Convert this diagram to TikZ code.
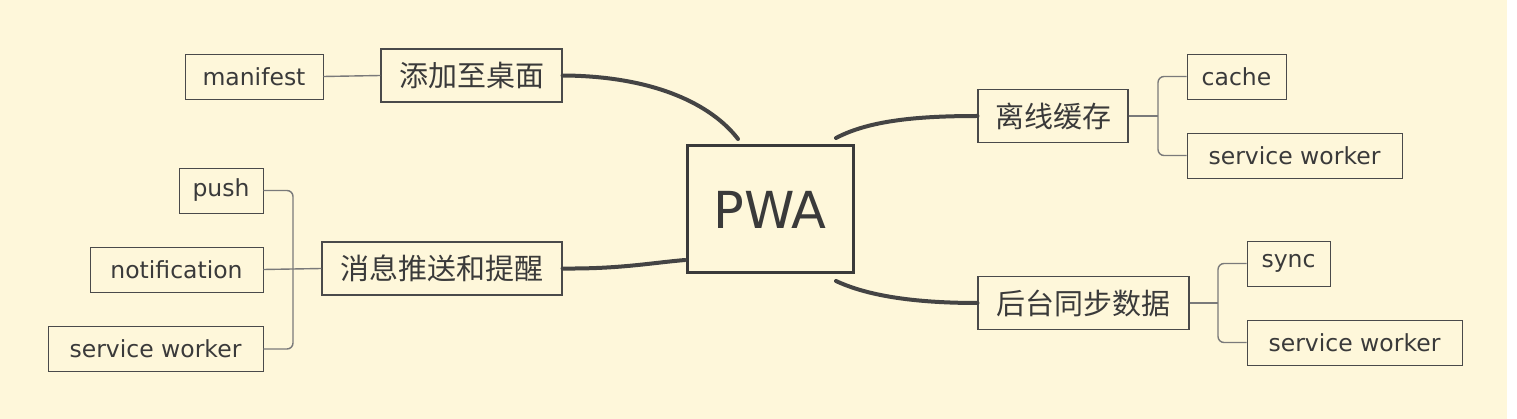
\documentclass[tikz,border=0pt]{standalone}
\usepackage{fontspec}
\setmainfont{DejaVu Sans}
\newfontfamily\cjk{Noto Sans CJK SC}
\definecolor{bg}{HTML}{FEF7DA}
\definecolor{txt}{HTML}{3A3A3A}
\definecolor{boxline}{HTML}{4A4A4A}
\definecolor{thick}{HTML}{444444}
\definecolor{thin}{HTML}{7A7A7A}
\begin{document}
\begin{tikzpicture}[x=1pt,y=-1pt,
  leaf/.style={draw=boxline, line width=0.9pt, text=txt, inner sep=0pt,
    font=\fontsize{23.5}{26}\selectfont, minimum height=45pt},
  topic/.style={draw=boxline, line width=1.1pt, text=txt, inner sep=0pt,
    font=\cjk\fontsize{29}{33}\selectfont, minimum height=53pt},
  central/.style={draw=txt, line width=3pt, text=txt, inner sep=0pt,
    font=\fontsize{51}{56}\selectfont, minimum width=166pt, minimum height=127pt},
  branch/.style={draw=thick, line width=4pt, line cap=round},
  conn/.style={draw=thin, line width=1.4pt, rounded corners=6pt}]
\useasboundingbox (0,0) rectangle (1517,419);
\fill[white] (0,0) rectangle (1517,419);
\fill[bg] (0,0) rectangle (1507,419);

% central
\node[central] (pwa) at (770,209.5) {PWA};
\coordinate (ptl) at (738,139);
\coordinate (ptr) at (836,138);
\coordinate (pl) at (685,260);
\coordinate (pbr) at (836,281);

% topics
\node[topic, minimum width=181pt] (tj) at (471.5,75.5) {添加至桌面};
\node[topic, minimum width=240pt] (xx) at (442,268.5) {消息推送和提醒};
\node[topic, minimum width=150pt] (lx) at (1053,116) {离线缓存};
\node[topic, minimum width=211pt] (ht) at (1083.5,303) {后台同步数据};

% leaves left
\node[leaf, minimum width=138pt] (mf) at (254,76.5) {manifest};
\node[leaf, minimum width=84pt] (push) at (221,190.5) {push};
\node[leaf, minimum width=173pt] (noti) at (176.5,269.5) {notification};
\node[leaf, minimum width=215pt] (swl) at (155.5,349) {service worker};

% leaves right
\node[leaf, minimum width=99pt] (cache) at (1236.5,76.5) {cache};
\node[leaf, minimum width=215pt] (swr) at (1294.5,155.5) {service worker};
\node[leaf, minimum width=83pt] (sync) at (1288.5,263.5) {sync};
\node[leaf, minimum width=215pt] (swb) at (1354.5,342.5) {service worker};

% branch curves
\draw[branch] (tj.east) .. controls (655,76) and (712,105) .. (ptl);
\draw[branch] (xx.east) .. controls (620,269) and (650,263) .. (pl);
\draw[branch] (ptr) .. controls (870,120) and (920,116) .. (lx.west);
\draw[branch] (pbr) .. controls (870,297) and (920,303) .. (ht.west);

% leaf connectors
\coordinate (bl) at (293,0);
\coordinate (br1) at (1158,0);
\coordinate (br2) at (1218,0);
\draw[conn] (mf.east) -- (tj.west);
\draw[conn] (push.east) -- (push.east -| bl) -- (swl.east -| bl) -- (swl.east);
\draw[conn] (noti.east) -- (xx.west);
\draw[conn] (lx.east) -- (lx.east -| br1);
\draw[conn] (cache.west) -- (cache.west -| br1) -- (swr.west -| br1) -- (swr.west);
\draw[conn] (ht.east) -- (ht.east -| br2);
\draw[conn] (sync.west) -- (sync.west -| br2) -- (swb.west -| br2) -- (swb.west);
\end{tikzpicture}
\end{document}
